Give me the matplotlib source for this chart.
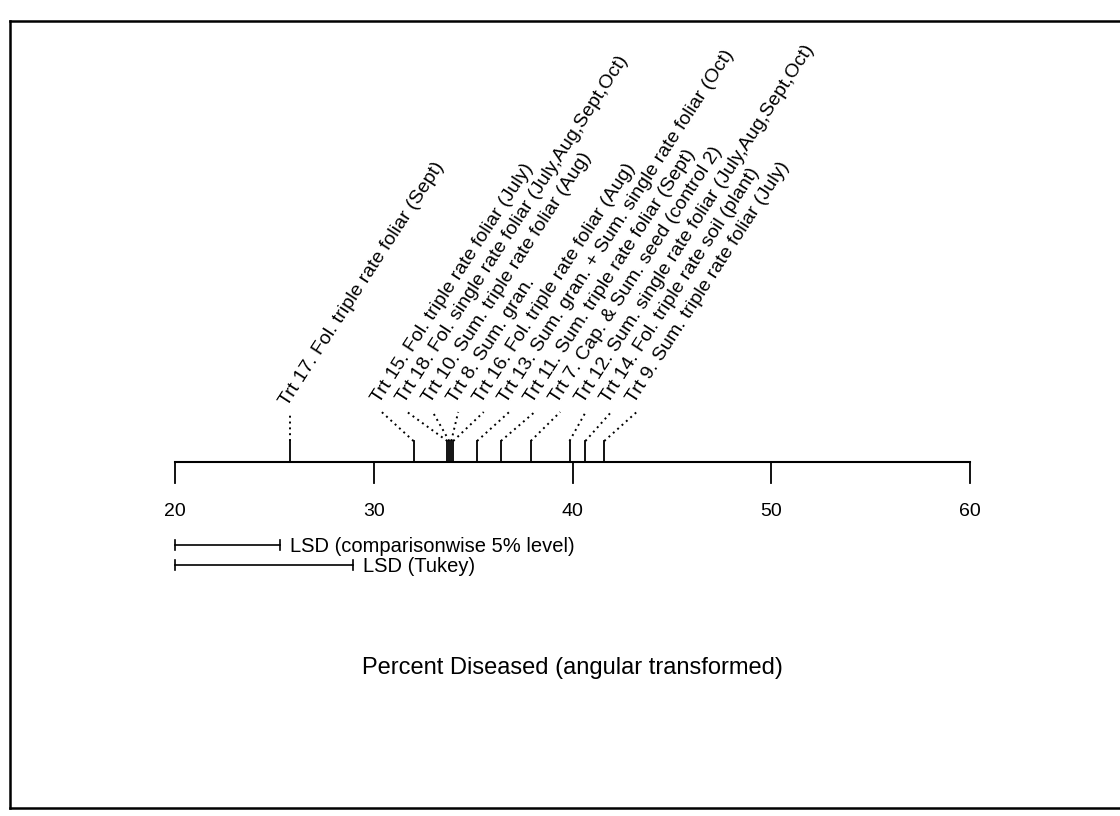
import matplotlib
matplotlib.use("Agg")
import matplotlib.pyplot as plt
from matplotlib.lines import Line2D

plt.rcParams['font.family'] = ['Liberation Sans', 'DejaVu Sans']

# treatment means (percent diseased, angular transformed)
trt_labels = [
    "Trt 17. Fol. triple rate foliar (Sept)",
    "Trt 15. Fol. triple rate foliar (July)",
    "Trt 18. Fol. single rate foliar (July,Aug,Sept,Oct)",
    "Trt 10. Sum. triple rate foliar (Aug)",
    "Trt 8. Sum. gran.",
    "Trt 16. Fol. triple rate foliar (Aug)",
    "Trt 13. Sum. gran. + Sum. single rate foliar (Oct)",
    "Trt 11. Sum. triple rate foliar (Sept)",
    "Trt 7. Cap. & Sum. seed (control 2)",
    "Trt 12. Sum. single rate foliar (July,Aug,Sept,Oct)",
    "Trt 14. Fol. triple rate soil (plant)",
    "Trt 9. Sum. triple rate foliar (July)",
]
trt_values = [25.8, 32.0, 33.7, 33.8, 33.9, 34.0, 35.2, 36.4, 37.9, 39.85, 40.65, 41.6]

axis_ticks = [20, 30, 40, 50, 60]
lsd_labels = ["LSD (comparisonwise 5% level)", "LSD (Tukey)"]
lsd_values = [5.3, 8.95]

# layout (x in data units, y in pixels from top)
px_per_unit = 19.875
y_axis = 462
label_x0 = 30.4
label_step = 1.283
rot = 57

fig = plt.figure(figsize=(11.2, 8.16), dpi=100)
ax = fig.add_axes([0, 0, 1, 1])
ax.set_xlim(20 - 175 / px_per_unit, 20 + (1120 - 175) / px_per_unit)
ax.set_ylim(816, 0)
ax.axis('off')

# outer frame (right side runs off the page)
fw = 1.8
fig.add_artist(Line2D([10/1120, 1.0], [1 - 21/816, 1 - 21/816], color='black', lw=fw, transform=fig.transFigure))
fig.add_artist(Line2D([10/1120, 10/1120], [1 - 21/816, 1 - 808/816], color='black', lw=fw, transform=fig.transFigure))
fig.add_artist(Line2D([10/1120, 1.0], [1 - 808/816, 1 - 808/816], color='black', lw=fw, transform=fig.transFigure))

# main axis
ax.plot([axis_ticks[0], axis_ticks[-1]], [y_axis, y_axis], color='black', lw=1.5)
for t in axis_ticks:
    ax.plot([t, t], [y_axis, y_axis + 21], color='black', lw=1.3)
    ax.text(t, y_axis + 41, str(t), ha='center', va='top', fontsize=14)

# treatment ticks, leader lines and labels
for i, (lab, v) in enumerate(zip(trt_labels, trt_values)):
    ax.plot([v, v], [y_axis, y_axis - 21], color='black', lw=1.3)
    if i == 0:
        lx, ly = v, y_axis - 47
    else:
        lx, ly = label_x0 + (i - 1) * label_step, y_axis - 50
    ax.plot([v, lx], [y_axis - 21, ly], color='black', lw=1.4, ls=(0, (1, 2)))
    ax.text(lx + 0.05, ly - 6, lab, rotation=rot, rotation_mode='anchor',
            ha='left', va='bottom', fontsize=14)

# LSD bars
lsd_y = [545, 565]
for lab, w, yy in zip(lsd_labels, lsd_values, lsd_y):
    ax.plot([20, 20 + w], [yy, yy], color='black', lw=1.2)
    ax.plot([20, 20], [yy - 5, yy + 5], color='black', lw=1.2)
    ax.plot([20 + w, 20 + w], [yy - 5, yy + 5], color='black', lw=1.2)
    ax.text(20 + w + 0.5, yy + 2, lab, ha='left', va='center', fontsize=14.5)

ax.text(40, 668, "Percent Diseased (angular transformed)", ha='center', va='center', fontsize=17)

fig.savefig('out.png', dpi=100)
